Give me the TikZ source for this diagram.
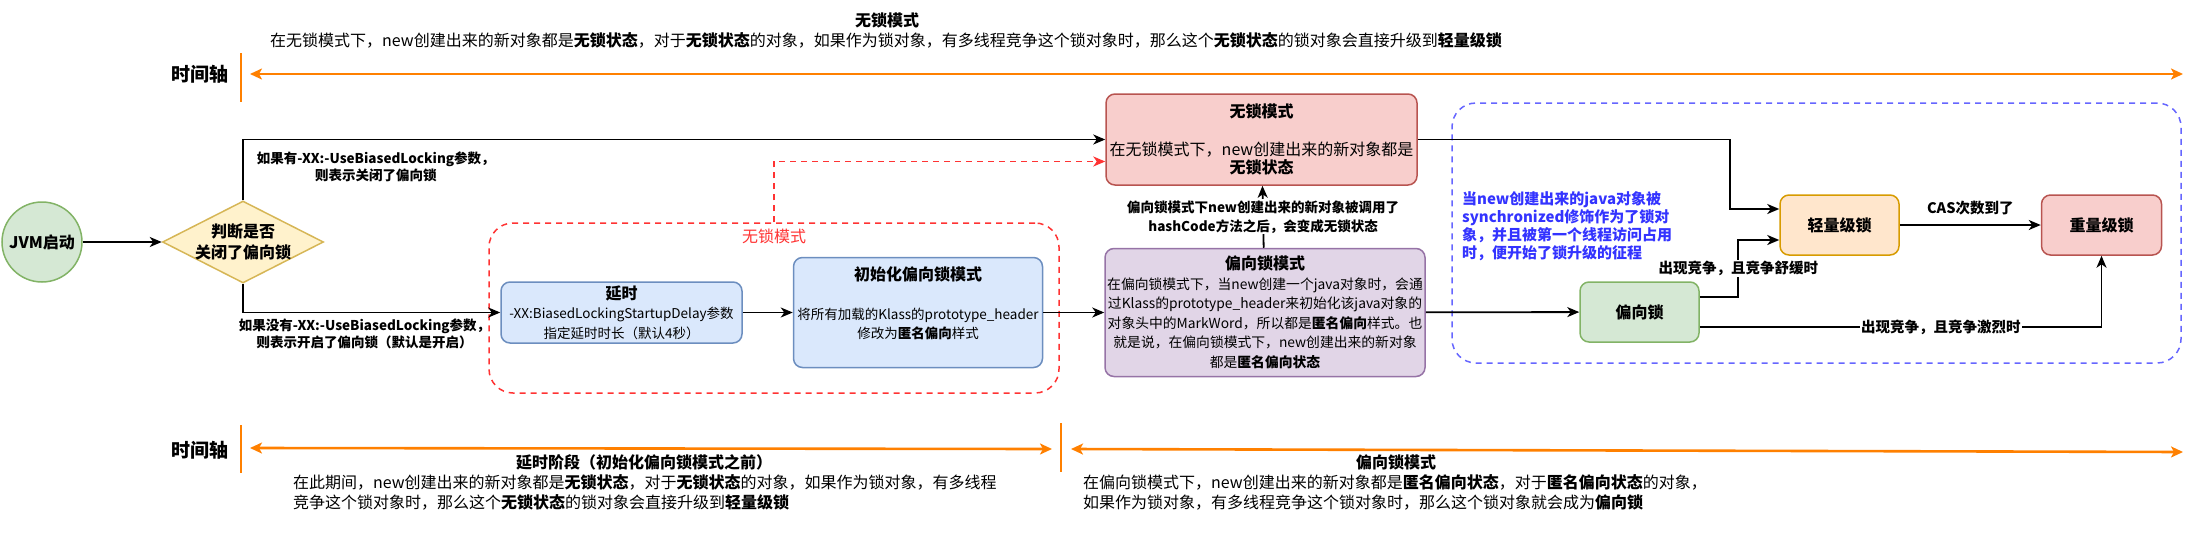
\documentclass[tikz,border=0pt]{standalone}
\usepackage{fontspec}
\setmainfont{Noto Sans CJK SC}
\usepackage{tikz}
\usetikzlibrary{positioning,arrows.meta,shapes.geometric,calc}
\definecolor{greenfill}{HTML}{D5E8D4}
\definecolor{greenline}{HTML}{82B366}
\definecolor{yellowfill}{HTML}{FFF2CC}
\definecolor{yellowline}{HTML}{D6B656}
\definecolor{bluefill}{HTML}{DAE8FC}
\definecolor{blueline}{HTML}{6C8EBF}
\definecolor{redfill}{HTML}{F8CECC}
\definecolor{redline}{HTML}{B85450}
\definecolor{purplefill}{HTML}{E1D5E7}
\definecolor{purpleline}{HTML}{9673A6}
\definecolor{orangefill}{HTML}{FFE6CC}
\definecolor{orangeline}{HTML}{D79B00}
\definecolor{axisorange}{HTML}{FF8000}
\definecolor{zonered}{HTML}{FF3333}
\definecolor{zoneblue}{HTML}{6666FF}
\definecolor{noteblue}{HTML}{3333FF}
\newcommand{\boxtitle}[1]{{\fontsize{16}{19.5}\selectfont\bfseries #1}}

\begin{document}
\begin{tikzpicture}[x=1pt,y=-1pt,
   every node/.style={font=\fontsize{16}{19.5}\selectfont},
   box/.style={rectangle,rounded corners=9pt,line width=1.5pt,align=center,inner sep=1pt},
   zone/.style={rectangle,rounded corners=24pt,dash pattern=on 6pt off 5pt,line width=1.5pt},
   conn/.style={-{Stealth[length=12pt,width=10pt,inset=3.5pt]},line width=1.8pt},
   edgetext/.style={font=\fontsize{13.5}{17}\selectfont\bfseries,align=center,inner sep=1pt},
   sidetext/.style={font=\fontsize{14.5}{17}\selectfont\bfseries,inner sep=1pt},
   axisline/.style={{Stealth[length=12pt,width=11pt,inset=3pt]}-{Stealth[length=12pt,width=11pt,inset=3pt]},draw=axisorange,line width=2.6pt},
   axistick/.style={draw=axisorange,line width=1.5pt},
   axislabel/.style={font=\fontsize{19}{22}\selectfont\bfseries}]
  \useasboundingbox (0,0) rectangle (2191,533);

  % time axis, top
  \node[font=\fontsize{16}{19.5}\selectfont\bfseries] (toptitle) at (887,20) {无锁模式};
  \node (topdesc) at (886,40) {在无锁模式下，new创建出来的新对象都是\textbf{无锁状态}，对于\textbf{无锁状态}的对象，如果作为锁对象，有多线程竞争这个锁对象时，那么这个\textbf{无锁状态}的锁对象会直接升级到\textbf{轻量级锁}};
  \node[axislabel] (topaxis) at (200,74) {时间轴};
  \coordinate (topstart) at (250,74);
  \coordinate (topend) at (2183,74);
  \draw[axistick] (241,53) -- (241,102);
  \draw[axisline] (topstart) -- (topend);

  % time axis, bottom
  \node[axislabel] (botaxis) at (200,450) {时间轴};
  \coordinate (delaystart) at (250,448);
  \coordinate (delayend) at (1052,449);
  \coordinate (biasstart) at (1071,449);
  \coordinate (biasend) at (2183,452);
  \draw[axistick] (241,425) -- (241,473);
  \draw[axistick] (1061,423) -- (1061,472);
  \draw[axisline] (delaystart) -- (delayend);
  \draw[axisline] (biasstart) -- (biasend);
  \node[font=\fontsize{16}{19.5}\selectfont\bfseries] (delaytitle) at (644,462) {延时阶段（初始化偏向锁模式之前）};
  \node[anchor=north west,align=left,inner sep=0pt,font=\fontsize{16}{20}\selectfont] (delaydesc) at (293,474)
    {在此期间，new创建出来的新对象都是\textbf{无锁状态}，对于\textbf{无锁状态}的对象，如果作为锁对象，有多线程\\竞争这个锁对象时，那么这个\textbf{无锁状态}的锁对象会直接升级到\textbf{轻量级锁}};
  \node[font=\fontsize{16}{19.5}\selectfont\bfseries] (biastitle) at (1396,462) {偏向锁模式};
  \node[anchor=north west,align=left,inner sep=0pt,font=\fontsize{16}{20}\selectfont] (biasdesc) at (1083,474)
    {在偏向锁模式下，new创建出来的新对象都是\textbf{匿名偏向状态}，对于\textbf{匿名偏向状态}的对象，\\如果作为锁对象，有多线程竞争这个锁对象时，那么这个锁对象就会成为\textbf{偏向锁}};

  % zones
  \node[zone,draw=zonered,minimum width=570pt,minimum height=170pt,
    label={[text=zonered,anchor=north,yshift=-3pt]north:无锁模式}] (freezone) at (774,308) {};
  \node[zone,draw=zoneblue,minimum width=729pt,minimum height=260pt] (lockzone) at (1816.5,233) {};

  % nodes
  \node[circle,draw=greenline,fill=greenfill,line width=1.5pt,minimum size=80pt,inner sep=0pt,
    font=\fontsize{16}{19.5}\selectfont\bfseries] (jvm) at (42,242) {JVM启动};
  \node[diamond,draw=yellowline,fill=yellowfill,line width=1.5pt,minimum width=161pt,minimum height=82pt,inner sep=0pt,
    label={[align=center,font=\fontsize{16}{21}\selectfont\bfseries]center:判断是否\\关闭了偏向锁}] (judge) at (243,242) {};
  \node[box,draw=blueline,fill=bluefill,minimum width=241pt,minimum height=61pt,font=\fontsize{13.5}{19.5}\selectfont] (delay) at (621.5,312.5)
    {\boxtitle{延时}\\-XX:BiasedLockingStartupDelay参数\\指定延时时长（默认4秒）};
  \node[box,draw=blueline,fill=bluefill,minimum width=249pt,minimum height=110pt,font=\fontsize{13.5}{19.5}\selectfont,right=50pt of delay] (init)
    {\boxtitle{初始化偏向锁模式}\\[19pt]将所有加载的Klass的prototype\_header\\修改为\textbf{匿名偏向}样式\\\mbox{}};
  \node[box,draw=purpleline,fill=purplefill,minimum width=320pt,minimum height=128pt,font=\fontsize{13.8}{19.5}\selectfont,right=61pt of init] (bias)
    {\boxtitle{偏向锁模式}\\在偏向锁模式下，当new创建一个java对象时，会通\\过Klass的prototype\_header来初始化该java对象的\\对象头中的MarkWord，所以都是\textbf{匿名偏向}样式。也\\就是说，在偏向锁模式下，new创建出来的新对象\\都是\textbf{匿名偏向状态}};
  \node[box,draw=redline,fill=redfill,minimum width=311pt,minimum height=91pt,font=\fontsize{16}{18.5}\selectfont] (free) at (1261.5,139.5)
    {\boxtitle{无锁模式}\\[19pt]在无锁模式下，new创建出来的新对象都是\\\textbf{无锁状态}};
  \node[box,draw=greenline,fill=greenfill,minimum width=119pt,minimum height=60pt,font=\fontsize{16}{19.5}\selectfont\bfseries] (biased) at (1639.5,312) {偏向锁};
  \node[box,draw=orangeline,fill=orangefill,minimum width=119pt,minimum height=60pt,font=\fontsize{16}{19.5}\selectfont\bfseries] (light) at (1839.5,225) {轻量级锁};
  \node[box,draw=redline,fill=redfill,minimum width=120pt,minimum height=60pt,font=\fontsize{16}{19.5}\selectfont\bfseries,right=141pt of light] (heavy) {重量级锁};
  \node[anchor=north west,align=left,inner sep=0pt,text=noteblue,font=\fontsize{15}{18}\selectfont\bfseries] (note) at (1462,191)
    {当new创建出来的java对象被\\synchronized修饰作为了锁对\\象，并且被第一个线程访问占用\\时，便开始了锁升级的征程};

  % connectors
  \path (jvm) edge[conn] (judge)
        (delay) edge[conn] (init)
        (init) edge[conn] (bias)
        (bias) edge[conn] (biased)
        (light) edge[conn] node[sidetext,above=8pt] {CAS次数到了} (heavy)
        (bias) edge[conn] node[edgetext,fill=white,font=\fontsize{13.5}{19}\selectfont\bfseries]
          {偏向锁模式下new创建出来的新对象被调用了\\hashCode方法之后，会变成无锁状态} (free);
  \draw[conn] (judge.north) |- node[edgetext,pos=0.5,anchor=north west,xshift=12pt,yshift=-10pt]
    {如果有-XX:-UseBiasedLocking参数，\\则表示关闭了偏向锁} (free.west);
  \draw[conn] (judge.south) |- node[edgetext,pos=0.5,anchor=north west,xshift=-6pt,yshift=-4pt]
    {如果没有-XX:-UseBiasedLocking参数，\\则表示开启了偏向锁（默认是开启）} (delay.west);
  \draw[conn,draw=zonered,dash pattern=on 6pt off 5pt] (freezone.north) |- ([yshift=-22pt]free.west);
  \draw[conn] (free.east) -| ([xshift=-49pt,yshift=16pt]light.west) -- ([yshift=16pt]light.west);
  \draw[conn] ([yshift=15pt]biased.east) -| node[sidetext,pos=0.75,fill=white] {出现竞争，且竞争舒缓时}
    ([xshift=-41pt,yshift=-15pt]light.west) -- ([yshift=-15pt]light.west);
  \draw[conn] ([yshift=-15pt]biased.east) -| node[sidetext,pos=0.3,fill=white] {出现竞争，且竞争激烈时} (heavy.south);
\end{tikzpicture}
\end{document}
